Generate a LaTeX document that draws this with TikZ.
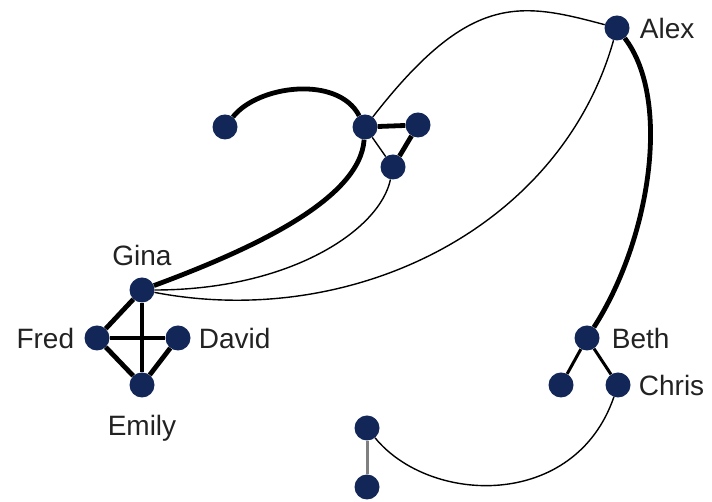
\documentclass[tikz,border=0pt]{standalone}
\usepackage{fontspec}
\setmainfont{Liberation Sans}
\usepackage{xcolor}
\usetikzlibrary{positioning}
\definecolor{dotblue}{RGB}{18,38,88}
\definecolor{txtgray}{RGB}{34,34,34}

\begin{document}
\begin{tikzpicture}[x=1pt, y=1pt,
    dot/.style={circle, fill=dotblue, minimum size=25pt, inner sep=0pt},
    lbl/.style={inner sep=0pt, text depth=0pt, text=txtgray, font=\fontsize{28}{30}\selectfont},
    thin edge/.style={line width=1.4pt},
    mid edge/.style={line width=3pt},
    thick edge/.style={line width=4.8pt}]
  \useasboundingbox (0,0) rectangle (712,502);
  % vertices
  \foreach \n/\x/\y in {alex/617/474, lft/225/375, m/365/375, r/418/377, t/393/335,
      gina/142/212, fred/97/164, david/178/164, emily/142/117,
      beth/587/164, leaf/561/117, chris/618/117, p/367/74, q/367/15}
    \node[dot] (\n) at (\x,\y) {};
  % names
  \node[lbl, right=10pt of alex] (alexlbl) {Alex};
  \node[lbl, above=12pt of gina] (ginalbl) {Gina};
  \node[lbl, left=10pt of fred] (fredlbl) {Fred};
  \node[lbl, right=8pt of david] (davidlbl) {David};
  \node[lbl, below=17pt of emily] (emilylbl) {Emily};
  \node[lbl, right=12pt of beth] (bethlbl) {Beth};
  \node[lbl, right=8pt of chris] (chrislbl) {Chris};
  % straight edges
  \foreach \a/\b in {gina/fred, gina/emily, fred/david, fred/emily, david/emily, m/r, r/t}
    \draw[thick edge] (\a) -- (\b);
  \draw[thin edge] (m) -- (t);
  \draw[mid edge] (beth) -- (leaf);
  \draw[mid edge] (beth) -- (chris);
  \draw[mid edge, gray] (p) -- (q);
  % curved edges
  \draw[thick edge] (lft) .. controls (258,417) and (338,427) .. (m);
  \draw[thick edge] (gina) .. controls (250,252) and (360,302) .. (m);
  \draw[thick edge] (alex) .. controls (672,402) and (650,262) .. (beth);
  \draw[thin edge] (m) .. controls (470,510) and (520,500) .. (alex);
  \draw[thin edge] (gina) .. controls (290,212) and (380,272) .. (t);
  \draw[thin edge] (gina) .. controls (350,172) and (560,272) .. (alex);
  \draw[thin edge] (chris) .. controls (575,-8) and (430,-3) .. (p);
\end{tikzpicture}
\end{document}
